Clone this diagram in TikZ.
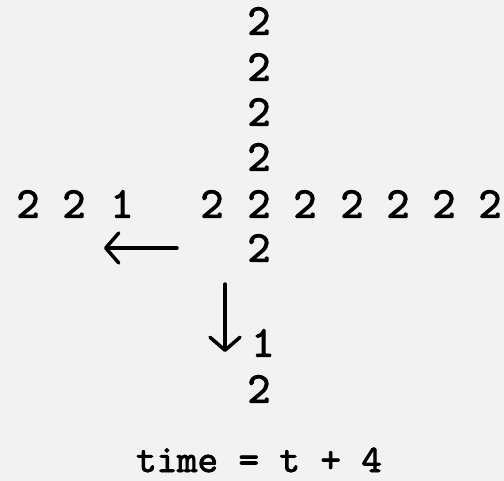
\documentclass[tikz,border=0pt]{standalone}
\usepackage{fontspec}
\newfontfamily\twfont{lmmono10-regular.otf}[FakeBold=2.2]
\usetikzlibrary{arrows.meta}
\definecolor{bgc}{HTML}{F2F2F2}
\begin{document}
\begin{tikzpicture}[x=1pt,y=-1pt,
  digit/.style={font=\twfont\fontsize{44}{44}\selectfont, inner sep=0pt, anchor=center},
  captext/.style={font=\twfont\fontsize{39}{39}\selectfont, inner sep=0pt, anchor=base},
  arr/.style={line width=3.5pt, line cap=round, -{Straight Barb[length=13pt,width=30pt,line join=round,line cap=round]}}]
\fill[bgc] (0,0) rectangle (504,481);
\useasboundingbox (0,0) rectangle (504,481);
% vertical column
\node[digit] (v1) at (259,21) {2};
\node[digit] (v2) at (259,67) {2};
\node[digit] (v3) at (259,112) {2};
\node[digit] (v4) at (259,157) {2};
\node[digit] (v6) at (259,248) {2};
% horizontal row
\node[digit] (h1) at (28,204) {2};
\node[digit] (h2) at (74,204) {2};
\node[digit] (h3) at (122,204) {1};
\node[digit] (h4) at (212,204) {2};
\node[digit] (h5) at (259,204) {2};
\node[digit] (h6) at (305,204) {2};
\node[digit] (h7) at (352,204) {2};
\node[digit] (h8) at (398,204) {2};
\node[digit] (h9) at (444,204) {2};
\node[digit] (h10) at (490,204) {2};
% lower
\node[digit] (d1) at (263,343) {1};
\node[digit] (d2) at (259,389) {2};
% arrows
\coordinate (la1) at (177,248);
\coordinate (la2) at (104,248);
\coordinate (da1) at (225,284);
\coordinate (da2) at (225,352);
\draw[arr] (la1) -- (la2);
\draw[arr] (da1) -- (da2);
% caption
\node[captext] (cap) at (259,472) {time = t + 4};
\end{tikzpicture}
\end{document}
